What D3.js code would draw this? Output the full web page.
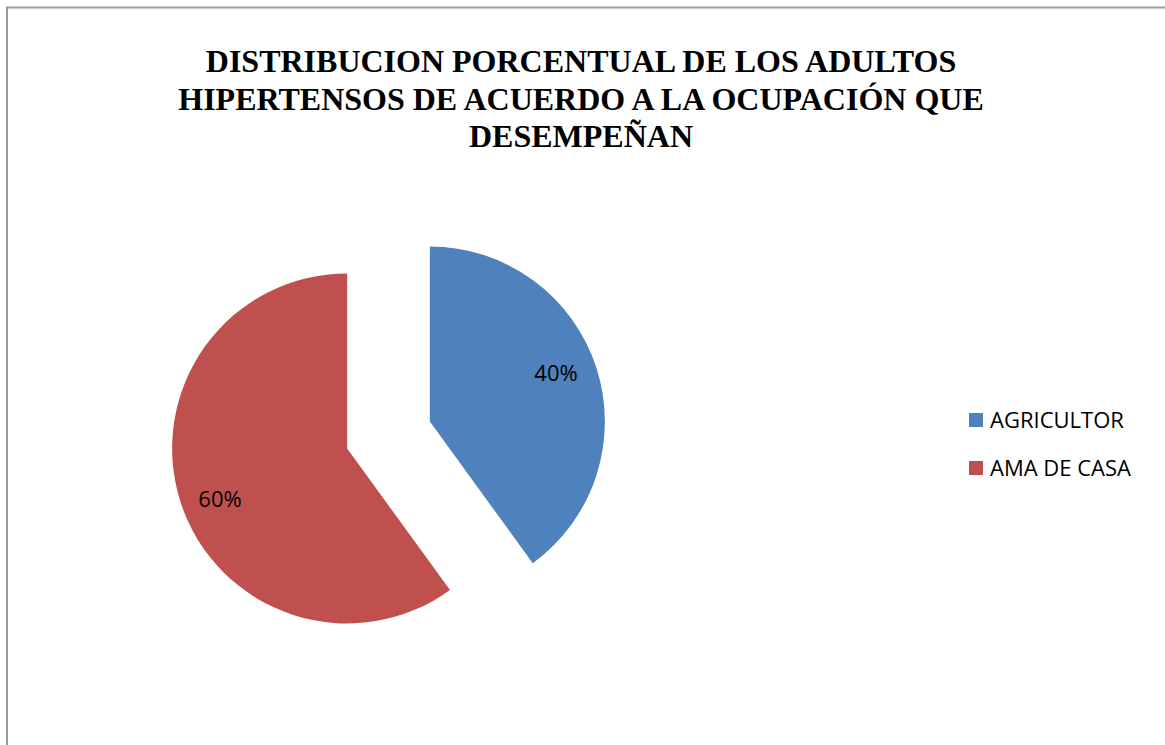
<!DOCTYPE html>
<html>
<head>
<meta charset="utf-8">
<script src="https://cdn.jsdelivr.net/npm/d3@7"></script>
<style>
  body { margin: 0; background: #fff; }
</style>
</head>
<body>
<div id="chart"></div>
<script>
// Chart data
const categories = ['AGRICULTOR', 'AMA DE CASA'];
const values = [40, 60];
const colors = ['#4F81BD', '#C0504D'];
const titleLines = [
  'DISTRIBUCION PORCENTUAL DE LOS ADULTOS',
  'HIPERTENSOS DE ACUERDO A LA OCUPACIÓN QUE',
  'DESEMPEÑAN'
];

const width = 1165;
const height = 745;

const svg = d3.select('#chart')
  .append('svg')
  .attr('width', width)
  .attr('height', height);

// Chart frame
svg.append('path')
  .attr('d', `M 7 ${height} L 7 7.5 L ${width} 7.5`)
  .attr('fill', 'none')
  .attr('stroke', '#999')
  .attr('stroke-width', 2);

// Title
svg.append('g')
  .selectAll('text')
  .data(titleLines)
  .enter()
  .append('text')
  .text(d => d)
  .attr('x', 581)
  .attr('y', (d, i) => 72 + i * 37.5)
  .style('text-anchor', 'middle')
  .style('font-family', '"Liberation Serif", "Times New Roman", serif')
  .style('font-weight', 'bold')
  .style('font-size', '32px')
  .style('fill', '#000');

// Pie
const radius = 175;
const explode = 43.5;
const cx = 388.5;
const cy = 435;

const pie = d3.pie().sort(null).value(d => d.value);
const arcs = pie(categories.map((c, i) => ({name: c, value: values[i], color: colors[i]})));
const arc = d3.arc().innerRadius(0).outerRadius(radius);
const labelArc = d3.arc().innerRadius(radius * 0.77).outerRadius(radius * 0.77);
const total = d3.sum(values);

const pieGroup = svg.append('g')
  .attr('transform', `translate(${cx}, ${cy})`);

const slices = pieGroup.selectAll('g')
  .data(arcs)
  .enter()
  .append('g')
  .attr('transform', d => {
    const mid = (d.startAngle + d.endAngle) / 2;
    return `translate(${explode * Math.sin(mid)}, ${-explode * Math.cos(mid)})`;
  });

slices.append('path')
  .attr('d', arc)
  .style('fill', d => d.data.color);

// Percentage labels, nudged a little to sit where the original has them
slices.append('text')
  .text(d => Math.round(d.data.value / total * 100) + '%')
  .attr('transform', d => {
    const [x, y] = labelArc.centroid(d);
    return `translate(${x + (d.index === 0 ? -2 : 1)}, ${y + (d.index === 0 ? -7 : 9)})`;
  })
  .attr('dy', '0.35em')
  .style('text-anchor', 'middle')
  .style('font-family', '"Open Sans", sans-serif')
  .style('font-size', '22px')
  .style('fill', '#000');

// Legend
const legend = svg.append('g')
  .selectAll('g')
  .data(categories)
  .enter()
  .append('g')
  .attr('transform', (d, i) => `translate(969, ${413 + i * 48})`);

legend.append('rect')
  .attr('width', 14)
  .attr('height', 14)
  .style('fill', (d, i) => colors[i]);

legend.append('text')
  .text(d => d)
  .attr('x', 21)
  .attr('y', 7)
  .attr('dy', '0.35em')
  .style('font-family', '"Open Sans", sans-serif')
  .style('font-size', '22px')
  .style('fill', '#000');
</script>
</body>
</html>
